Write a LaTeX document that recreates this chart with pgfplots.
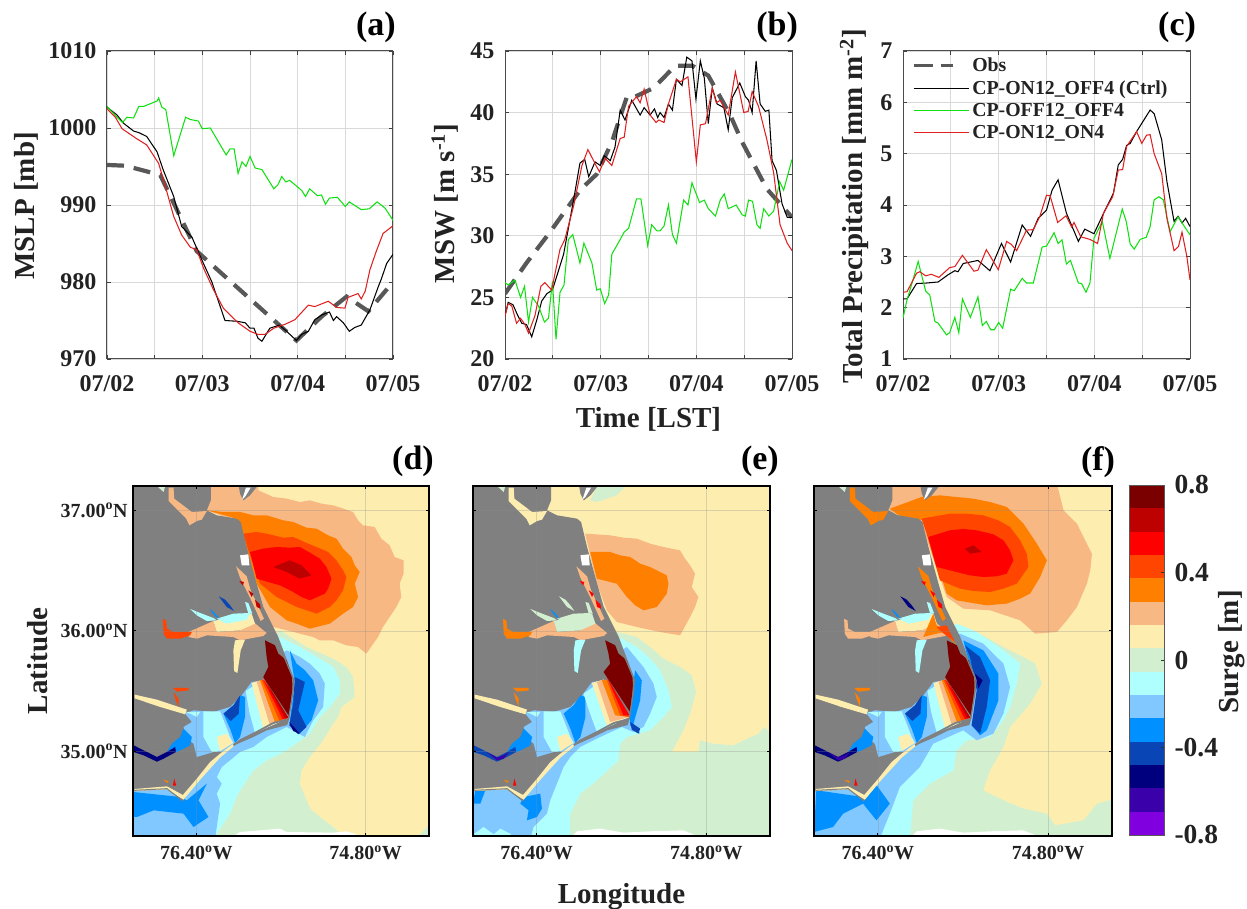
\documentclass[border=0pt]{standalone}
\usepackage{pgfplots}
\usepackage{fontspec}
\pgfplotsset{compat=1.18}
\setmainfont{Liberation Serif}
\definecolor{c1}{HTML}{7A0000}\definecolor{c2}{HTML}{BD0000}\definecolor{c3}{HTML}{FF0000}
\definecolor{c4}{HTML}{FF4500}\definecolor{c5}{HTML}{FF8000}\definecolor{c6}{HTML}{F8B884}
\definecolor{c7}{HTML}{FDEEB0}\definecolor{c8}{HTML}{D2F0D0}\definecolor{c9}{HTML}{B0FFFF}
\definecolor{c10}{HTML}{80C8FF}\definecolor{c11}{HTML}{0090FF}\definecolor{c12}{HTML}{0A45B5}
\definecolor{c13}{HTML}{00007F}\definecolor{c14}{HTML}{3A00AA}\definecolor{c15}{HTML}{8000E0}
\definecolor{land}{HTML}{808080}\definecolor{ink}{HTML}{222222}
\definecolor{gr}{HTML}{10E010}\definecolor{rd}{HTML}{E02020}\definecolor{obs}{HTML}{585858}
\newcommand\fs[1]{\fontsize{#1}{#1}\selectfont\bfseries}
\pgfplotsset{
 lineaxis/.style={scale only axis,width=286pt,height=308pt,xmin=0,xmax=72,
  xtick={0,12,...,72},xticklabels={07/02,,07/03,,07/04,,07/05},
  tick align=inside,major tick length=4pt,grid=major,
  grid style={black!15,line width=.9pt},tick style={black!75,line width=.7pt},
  axis line style={black!70,line width=1pt},
  tick label style={font=\fs{24},text=ink},xticklabel style={yshift=-13pt},
  yticklabel style={xshift=-7pt},
  label style={font=\fs{29},text=ink},
  title style={font=\fs{34},text=black}},
 obsl/.style={color=obs,line width=4.2pt,dash pattern=on 17pt off 10pt},
 ln/.style={line width=1.05pt},
 mapaxis/.style={scale only axis,width=296pt,height=350pt,xmin=-77,xmax=-74.2,ymin=34.3,ymax=37.2,
  axis on top,xtick={-76.4,-74.8},ytick={35,36,37},
  xticklabels={76.40\textsuperscript{o}W,74.80\textsuperscript{o}W},
  tick align=inside,major tick length=3pt,grid=major,
  grid style={black!45,opacity=.3,line width=.6pt},tick style={black,line width=.8pt},
  axis line style={black,line width=1.8pt},
  tick label style={font=\fs{20},text=ink},xticklabel style={yshift=-6pt},yticklabel style={xshift=-2pt},
  label style={font=\fs{29},text=ink},
  title style={font=\fs{34},text=black},
  y filter/.expression={37.2-(y-107)/362.07}},
 dcoords/.style={x filter/.expression={-77+(x-398)/318}},
}
\newcommand\poly[2]{\addplot[draw=none,fill=#1,forget plot] coordinates {#2};}
\newcommand\polyD[2]{\addplot[dcoords,draw=none,fill=#1,forget plot] coordinates {#2};}
\newcommand\landD{%
 \polyD{land}{(390,100)(632,100)(632,150)(620,180)(650,195)(710,205)(722,215)(740,290)(770,400)(790,470)(835,560)(884,690)(868,805)(862,824)(800,840)(760,860)(700,886)(640,930)(590,990)(548,1052)(500,1017)(390,1023)}
 \polyD{land}{(715,100)(778,100)(750,135)(730,150)(720,130)}
 \polyD{white}{(738,112)(752,112)(735,140)(726,148)}
 \polyD{white}{(720,315)(745,312)(748,345)(725,345)}
}
\newcommand\soundD[1]{%
 \polyD{#1}{(725,735)(690,770)(640,785)(580,780)(555,790)(575,815)(550,830)(555,860)(580,880)(590,920)(640,905)(670,905)(705,878)(770,847)(865,800)(790,690)(755,695)}
}
\newcommand\neuseD[4]{%
 \polyD{#2}{(515,880)(540,860)(550,835)(575,860)(570,885)(530,905)(500,905)}
 \polyD{#3}{(400,885)(430,900)(470,920)(500,905)(525,890)(527,905)(490,925)(470,934)(430,915)(400,905)}
 \polyD{#4}{(440,905)(470,922)(490,915)(505,905)(490,925)(470,930)}
 \polyD{#1}{(518,713)(565,713)(565,720)(530,724)}
 \polyD{#1}{(520,725)(535,745)(535,770)(525,745)}
 \polyD{c7}{(403,733)(470,748)(560,778)(555,792)(480,770)(403,744)}
 \polyD{c9}{(555,785)(600,785)(590,800)(570,790)}
}
\newcommand\riversD[9]{%
 \polyD{#2}{(565,545)(640,512)(650,545)(720,540)(760,515)(800,548)(790,557)(720,570)(700,560)(620,555)(590,565)(565,560)}
 \polyD{#1}{(488,506)(498,510)(500,535)(520,545)(575,545)(570,555)(540,565)(500,565)(490,550)}
 \polyD{#3}{(640,512)(700,500)(755,490)(765,520)(720,540)(650,545)}
 \polyD{#4}{(650,505)(700,490)(750,488)(740,508)(680,520)}
 \polyD{#4}{(570,476)(600,488)(640,503)(650,510)(620,512)(590,495)}
 \polyD{#4}{(735,455)(745,458)(757,490)(745,490)}
 \polyD{c11}{(628,476)(640,484)(658,505)(645,498)}
 \polyD{#6}{(656,438)(675,448)(690,465)(702,482)(680,470)}
 \polyD{#5}{(735,568)(722,600)(712,668)(702,662)(700,600)(705,570)}
 \polyD{#7}{(505,112)(520,112)(522,145)(575,185)(620,182)(605,208)(590,212)(568,225)(558,205)(505,152)}
 \polyD{#8}{(708,348)(740,378)(752,420)(772,462)(792,505)(782,512)(750,442)(720,382)}
 \polyD{#9}{(718,392)(732,395)(728,405)}
 \polyD{#9}{(745,420)(760,430)(755,440)}
 \polyD{#9}{(765,448)(780,462)(782,475)(770,470)}
 \polyD{c8}{(470,107)(495,107)(490,125)}
 \polyD{c5}{(488,988)(505,992)(502,998)}
 \polyD{c3}{(522,985)(528,1006)(518,1006)}
 \polyD{c7}{(403,1016)(500,1008)(548,1034)(590,985)(630,935)(660,910)(700,880)(703,886)(660,922)(600,988)(550,1048)(500,1017)(403,1022)}
}
\newcommand\bankD{%
 \addplot[dcoords,color=land,line width=1.8pt,forget plot] coordinates {(866,806)(820,818)(770,845)(720,870)(700,885)};
 \addplot[dcoords,color=land,line width=1.2pt,forget plot] coordinates {(866,806)(880,720)(878,680)(840,590)};
 \addplot[dcoords,color=land,line width=1pt,forget plot] coordinates {(403,1020)(500,1015)(548,1052)};
}
\newcommand\bandsD[1]{%
 \polyD{c9}{(610,783)(660,783)(690,860)(700,878)(650,905)(635,905)(610,860)}
 \polyD{c7}{(650,860)(680,850)(698,878)(660,903)}
 \polyD{c11}{(722,735)(735,740)(735,800)(720,860)(705,878)(690,835)(670,790)(700,765)}
 \polyD{#1}{(720,735)(716,790)(692,812)(670,790)(700,765)}
}
\newcommand\fanD{%
 \polyD{c9}{(737,722)(790,688)(866,803)(765,848)(748,785)}
 \polyD{c7}{(755,698)(790,688)(866,803)(790,836)}
 \polyD{c6}{(770,694)(790,688)(866,803)(810,825)}
 \polyD{c5}{(780,690)(790,688)(866,803)(825,816)}
 \polyD{c4}{(785,688)(792,688)(866,803)(838,810)}
 \polyD{c3}{(790,688)(866,803)(848,806)}
 \polyD{c2}{(790,680)(866,803)(856,804)}
 \polyD{c1}{(795,570)(825,585)(835,610)(860,630)(880,690)(868,798)(790,680)(805,650)(800,620)}
}
\begin{document}
\begin{tikzpicture}
\path[use as bounding box] (0,0) rectangle (1247pt,909pt);
%% (a)
\begin{axis}[lineaxis,at={(107pt,550pt)},anchor=south west,ymin=970,ymax=1010,ytick={970,980,...,1010},
 yticklabels={970,980,990,1000,1010},ylabel={MSLP [mb]},
 ylabel style={at={(axis description cs:-0.283,0.497)},anchor=center},
 title={(a)},title style={at={(axis description cs:0.94,1.056)},anchor=center}]
\addplot[obsl] coordinates {(0,995.2)(4.6,995.1)(13.4,993.9)(22.6,984)(47.7,972.4)(54,975.5)(60.3,978.1)(65.8,976.2)(72,980)};
\addplot[color=black,ln] coordinates {(0,1002.7)(2.5,1001.7)(4.2,1000.6)(6.7,999.6)(8,999.4)(10,998.9)(12.6,996.9)(14.2,994.5)(16.8,991.1)(18.8,987.2)(21.4,985.8)(23.5,983.3)(26.4,980)(29.7,975)(32.7,974.9)(34.8,974.7)(36,974)(37,974)(38,972.7)(39,972.3)(41,974)(43.4,974.4)(45.2,973.6)(47.7,972.4)(49,973.2)(50.7,973.6)(52.3,975.1)(54,975.7)(56,976.1)(57,975)(57.8,975.5)(59.5,974.7)(61,973.6)(62.4,974.1)(64,974.4)(66.2,976.4)(68.3,979.4)(69,980.3)(70.4,982.4)(72,983.6)};
\addplot[color=gr,ln] coordinates {(0,1002.8)(2.5,1001.4)(3.9,1000.7)(5,1001.4)(6.7,1001.3)(8,1002.8)(9.2,1002.8)(12.6,1003.5)(13,1003.9)(13.8,1002.7)(14.8,1002.4)(16.8,996.4)(19.8,1001.4)(21,1001.1)(23,1000.9)(24,999.9)(26,1000)(30,996.5)(31,997.3)(32,997.3)(33,994.1)(34,995.6)(35,995)(36,996.3)(37.3,994.8)(39,994.6)(42,992.1)(43,992.6)(44,993.7)(45,993)(46,993.2)(49,991.9)(50,991.1)(51,992.1)(53,991.2)(54,991.3)(55,990.1)(56,990.9)(58,991)(60,989.8)(61,990.4)(64,989.4)(66,989.5)(68,990.4)(70,989.6)(72,988)};
\addplot[color=rd,ln] coordinates {(0,1002.5)(2.1,1001.4)(3.8,999.9)(7.5,998.6)(10,997.8)(13,995.4)(14.7,992.4)(16.8,988.5)(18.8,986.1)(21,984.5)(22.6,984.2)(24.3,981.8)(26.8,979)(29.3,976.6)(31.4,975.5)(33,974.7)(36,973.6)(38,973.2)(39.8,973.2)(42,974)(44.8,974.5)(47.3,975.1)(50.7,977)(52.3,976.8)(55.7,977.5)(57.8,976.7)(59.9,976.6)(60.7,978)(63.2,978.5)(64,977.8)(65,978.8)(66.2,981.6)(67.8,984)(69.5,986.3)(72,987.3)};
\end{axis}
%% (b)
\begin{axis}[lineaxis,width=287pt,at={(505pt,550pt)},anchor=south west,ymin=20,ymax=45,ytick={20,25,...,45},
 yticklabels={20,25,30,35,40,45},ylabel={MSW [m s\textsuperscript{-1}]},xlabel={Time [LST]},
 xlabel style={at={(axis description cs:0.5,-0.195)},anchor=center},
 ylabel style={at={(axis description cs:-0.21,0.505)},anchor=center},
 title={(b)},title style={at={(axis description cs:0.948,1.056)},anchor=center}]
\addplot[obsl] coordinates {(0,25.3)(5.4,27.8)(11.3,30.3)(18.8,33.7)(23,35)(26.8,37.6)(30.6,41.3)(32.7,41.3)(37.3,42)(42.7,43.8)(47,43.8)(51,43)(56.5,39.8)(59.5,37.6)(65.7,33.8)(72,31.5)};
\addplot[color=black,ln] coordinates {(0,23.5)(0.8,24.6)(2,24.4)(3.1,23.6)(4.2,22.9)(5.4,22.8)(6.7,21.8)(8,23.2)(9.2,24.7)(10.5,25.3)(11.9,25.6)(14.7,28.5)(17.2,32.9)(18.8,35.9)(20,36.2)(21,34.8)(22.6,36)(23.9,35.7)(24.9,36.5)(26.4,36.1)(27.6,37.2)(28.9,40.2)(30.1,39.4)(31.8,41)(33.9,39.8)(34.9,40.4)(36.4,39.8)(37.5,40.3)(38.3,39.6)(38.9,40)(39.9,39.6)(41,40.7)(42,40.2)(43,42.7)(44.4,42.2)(45.6,44.5)(46.9,44.2)(47.9,41.1)(49,44.2)(50,42.8)(51,39.1)(52,42)(53.2,40.7)(54.9,40.4)(56,38.6)(57,41.2)(58.9,42.4)(60.3,41.3)(61.1,41)(62,40)(63,44.2)(64,40.7)(65.3,40.1)(66.2,40.2)(67,36.1)(68.1,35.3)(69.5,32.6)(70.8,31.5)(72,31.5)};
\addplot[color=gr,ln] coordinates {(0,26.2)(0.8,26)(2.5,26.4)(3.9,25)(4.9,25.9)(5.9,23)(6.9,25)(8.4,24.3)(9.9,23)(10.9,23.3)(11.9,26.3)(12.8,21.6)(13.8,25.4)(14.8,26)(15.9,29.7)(17,30.1)(18.8,27.8)(19.8,29.4)(21.8,27.8)(23,25.6)(23.9,25.7)(25,24.5)(26,25.2)(26.8,28.5)(28.9,29.7)(29.9,30.3)(31,30.6)(33,33)(34.1,33)(35.8,29.2)(36.8,30.9)(38.1,30.4)(38.9,30.4)(39.9,30.8)(41,32.5)(42,30.1)(43,29.4)(44.8,32.9)(45.9,32.5)(46.9,34.3)(48.8,32.7)(50,32.9)(51,32.2)(52.8,31.6)(54,32.9)(55,33.4)(56,32.2)(58,32.5)(59.5,31.7)(60.3,31.6)(61.1,32.9)(62.1,32.8)(63.2,30.9)(64,30.6)(64.9,32.2)(66.2,31.6)(67.4,32)(68.9,34.4)(69.9,33.7)(72,36.2)};
\addplot[color=rd,ln] coordinates {(0,23.5)(0.8,24.5)(1.7,24.3)(2.9,22.9)(3.9,23.3)(5,22.8)(5.9,22.1)(7.5,23.5)(9,25.9)(10,26.2)(11.7,25.6)(13.8,28.9)(15,29.7)(17.2,32.4)(19.3,35.7)(20.8,37)(23,35.6)(23.7,35.2)(25.1,36.3)(26.8,35.7)(28.9,37.9)(29.9,38)(31,40.5)(33,41.3)(33.9,40.8)(34.9,41.9)(36.4,39.8)(37.9,39.2)(38.6,39.4)(39.9,39.2)(41,40.7)(43,42.7)(44,42.5)(45.9,42.9)(48,36)(49,39)(50.3,39.1)(52,42)(53,40.8)(54,41)(56,39.8)(57.8,43.3)(59.9,40)(61,40.1)(62,41.7)(63.6,40.5)(65.7,37.8)(67.4,35.1)(69,30.9)(70.8,29.4)(72,28.8)};
\end{axis}
%% (c)
\begin{axis}[lineaxis,width=287pt,at={(903pt,550pt)},anchor=south west,ymin=1,ymax=7,ytick={1,...,7},
 yticklabels={1,2,3,4,5,6,7},ylabel={Total Precipitation [mm m\textsuperscript{-2}]},
 ylabel style={at={(axis description cs:-0.17,0.495)},anchor=center},
 title={(c)},title style={at={(axis description cs:0.955,1.056)},anchor=center},
 legend style={draw=none,fill=none,at={(0.03,0.985)},anchor=north west,inner sep=0pt,
  font=\fs{19.8},row sep=3.4pt,text=ink,/tikz/every even column/.append style={column sep=6pt}},
 legend cell align=left,
 legend image code/.code={\draw[#1] (0pt,0pt) -- (55pt,0pt);}]
\addlegendimage{color=obs,line width=3.5pt,dash pattern=on 19pt off 8pt on 12pt off 20pt}
\addplot[color=black,ln] coordinates {(0,2.17)(1,2.17)(3.4,2.47)(5.9,2.48)(8.8,2.5)(11.3,2.64)(13,2.72)(13.8,2.7)(15.1,2.86)(18.8,2.92)(21.8,2.72)(24.7,3.25)(27,2.89)(29.9,3.61)(32,3.39)(33.9,3.74)(36,3.9)(37.4,4.29)(38.9,4.49)(41,3.84)(44,3.29)(45.6,3.53)(47.9,3.44)(50.7,3.9)(52.8,4.23)(54,4.78)(55.1,4.89)(56.1,5.16)(57,5.2)(58.6,5.43)(62,5.85)(63,5.78)(64.9,5.27)(66.2,4.46)(68,3.68)(69,3.78)(70,3.65)(70.9,3.74)(72,3.58)};
\addplot[color=gr,ln] coordinates {(0,1.8)(1,2.15)(2.5,2.54)(3.8,2.9)(5.7,2.32)(6.7,2.25)(8,1.73)(8.8,1.7)(10.9,1.47)(11.7,1.51)(13,1.81)(14,1.51)(14.9,2.17)(16.9,1.81)(18.8,2.21)(19.9,1.65)(20.9,1.73)(22,1.57)(22.9,1.57)(24,1.71)(25,1.6)(27,2.36)(27.9,2.33)(29.9,2.57)(31,2.48)(32.7,2.48)(34.9,3.18)(36,3.2)(37.9,3.46)(38.9,3.25)(39.9,3.32)(41,2.85)(42,2.92)(44,2.48)(44.8,2.47)(45.9,2.3)(46.9,2.48)(47.9,3.35)(50,3.68)(51.9,2.96)(55,3.92)(56,3.68)(57,3.24)(58,3.14)(59.5,3.33)(61,3.37)(62,3.58)(63,4.1)(64.2,4.16)(65.3,4.1)(67,3.48)(69,3.77)(71.2,3.51)(72,3.42)};
\addplot[color=rd,ln] coordinates {(0,2.3)(1,2.31)(3.4,2.67)(4.2,2.7)(5.7,2.62)(7.1,2.65)(9,2.59)(11.7,2.78)(13,2.8)(14.9,3.02)(17.8,2.71)(18.8,2.73)(20.9,3.13)(23.9,2.74)(26,3.29)(27.2,3.23)(28.5,3.11)(31,3.51)(32.7,3.52)(34.3,3.77)(36,4.19)(36.9,4.18)(38.8,3.66)(40.9,3.79)(42.3,3.57)(42.9,3.66)(44.6,3.38)(46.9,3.33)(48.8,3.25)(50.3,3.84)(52.6,4.16)(54,4.68)(55.1,4.69)(56.1,5.14)(58.6,5.43)(59.9,5.2)(61.1,5.36)(62,5.37)(63,5)(64.9,4.61)(66.2,3.74)(68,3.11)(69.1,3.19)(70,3.47)(71.2,3)(72,2.54)};
\legend{Obs,CP-ON12\_OFF4 (Ctrl),CP-OFF12\_OFF4,CP-ON12\_ON4}
\end{axis}
%% (d)
\begin{axis}[mapaxis,at={(133pt,73pt)},anchor=south west,
 x filter/.expression={-77+(x-398)/318},
 yticklabels={35.00\textsuperscript{o}N,36.00\textsuperscript{o}N,37.00\textsuperscript{o}N},
 ylabel={Latitude},ylabel style={at={(axis description cs:-0.321,0.5)},anchor=center},
 title={(d)},title style={at={(axis description cs:0.946,1.052)},anchor=center}]
\poly{c7}{(390,100)(1295,100)(1295,1165)(390,1165)}
\poly{c8}{(840,540)(920,590)(1000,625)(1040,650)(1060,680)(1065,740)(1025,770)(1015,800)(1000,820)(970,870)(930,920)(905,960)(900,1000)(920,1050)(935,1080)(1000,1130)(1040,1165)(390,1165)(390,900)}
\poly{c8}{(1288,1125)(1295,1165)(1250,1165)}
\poly{c9}{(830,555)(900,590)(960,625)(1000,650)(1020,690)(1020,730)(990,770)(960,800)(930,850)(860,900)(800,930)(760,960)(740,990)(720,1020)(705,1050)(690,1090)(640,1165)(390,1165)(390,900)}
\poly{c10}{(860,600)(900,620)(930,640)(960,670)(975,700)(970,770)(940,810)(915,860)(860,830)(800,860)(760,890)(720,905)(690,930)(665,950)(650,980)(665,1000)(650,1030)(660,1060)(645,1165)(390,1165)(390,900)}
\poly{c11}{(398,1025)(540,1040)(560,1050)(620,1000)(595,1050)(625,1100)(580,1130)(550,1090)(460,1080)(410,1100)(398,1100)}
\poly{c11}{(870,600)(890,640)(915,660)(940,690)(955,750)(935,810)(900,850)(880,840)(870,810)(885,700)}
\poly{c12}{(885,680)(915,695)(895,780)(920,830)(895,852)(868,825)(880,760)}
\poly{c13}{(868,815)(900,850)(880,842)}
\poly{c6}{(610,107)(775,107)(775,120)(820,140)(860,145)(900,155)(930,150)(965,160)(1000,165)(1040,178)(1060,185)(1075,210)(1090,225)(1125,230)(1145,265)(1170,285)(1185,320)(1212,330)(1212,370)(1200,400)(1205,440)(1190,470)(1170,500)(1150,530)(1135,560)(1100,610)(1075,590)(1040,585)(1000,570)(960,570)(940,560)(880,545)(820,530)(780,470)(700,210)(620,180)}
\poly{c5}{(620,180)(670,185)(720,185)(760,195)(800,195)(850,210)(880,215)(920,232)(950,235)(985,255)(1010,265)(1030,295)(1055,320)(1065,345)(1080,365)(1065,400)(1075,440)(1060,470)(1030,490)(990,520)(930,535)(890,520)(860,510)(810,470)(770,400)(730,260)(710,205)}
\poly{c4}{(730,250)(770,245)(800,250)(850,262)(880,260)(925,280)(950,290)(985,305)(1010,330)(1030,360)(1040,380)(1030,420)(1010,450)(990,470)(950,490)(920,480)(890,470)(860,455)(830,440)(780,400)(745,300)}
\poly{c3}{(750,305)(790,295)(830,290)(870,292)(900,290)(935,310)(960,325)(980,350)(995,385)(985,415)(975,430)(930,450)(905,440)(880,425)(840,405)(770,385)}
\poly{c2}{(820,350)(870,330)(905,345)(935,375)(900,385)(860,365)}
\poly{white}{(690,1165)(720,1145)(780,1140)(840,1135)(860,1145)(1000,1147)(1040,1143)(1070,1152)(1070,1165)}
\landD
\soundD{c10}\bandsD{c12}\fanD
\neuseD{c4}{c11}{c13}{c13}
\riversD{c4}{c6}{c7}{c9}{c7}{c12}{c6}{c6}{c2}
\bankD
\end{axis}
%% (e)
\begin{axis}[mapaxis,width=297pt,at={(473pt,73pt)},anchor=south west,
 x filter/.expression={-77+(x-68)/318.6},
 yticklabels={,,},xlabel={Longitude},
 xlabel style={at={(axis description cs:0.5,-0.174)},anchor=center},
 title={(e)},title style={at={(axis description cs:0.966,1.052)},anchor=center}]
\poly{c7}{(60,100)(970,100)(970,1165)(60,1165)}
\poly{c8}{(420,150)(445,100)(535,100)(500,135)(440,155)}
\poly{c8}{(500,545)(560,560)(600,590)(640,625)(690,650)(725,675)(738,725)(720,790)(700,840)(665,905)(745,905)(750,870)(790,880)(850,885)(925,850)(945,830)(970,860)(970,1165)(60,1165)(60,900)}
\poly{c6}{(405,250)(480,255)(520,262)(560,265)(600,280)(640,290)(690,300)(705,325)(720,345)(735,370)(725,410)(745,440)(735,470)(720,500)(690,555)(630,545)(560,530)(500,515)(470,480)(440,400)}
\poly{c5}{(420,305)(480,305)(510,315)(540,320)(570,340)(600,350)(650,375)(655,400)(650,430)(620,470)(580,480)(555,465)(530,440)(500,400)(440,385)}
\poly{c9}{(505,560)(560,590)(600,625)(630,660)(655,720)(665,770)(640,800)(600,840)(530,860)(510,880)(505,930)(440,990)(390,1030)(360,1090)(360,1165)(60,1165)(60,900)}
\poly{c10}{(530,590)(580,650)(610,700)(620,740)(600,790)(580,830)(550,845)(515,830)(450,860)(390,890)(360,920)(340,950)(300,1050)(290,1090)(250,1130)(240,1165)(60,1165)(60,900)}
\poly{c9}{(72,1150)(100,1130)(130,1152)(150,1135)(180,1150)(190,1165)(72,1165)}
\poly{c11}{(555,660)(575,690)(570,750)(550,820)(570,850)(540,825)(540,760)}
\poly{c12}{(540,815)(570,835)(565,850)(545,838)}
\poly{c11}{(220,1040)(270,1030)(275,1075)(260,1100)(230,1110)(235,1080)(210,1060)}
\poly{c11}{(75,1020)(105,1020)(90,1060)(68,1060)}
\poly{white}{(360,1165)(380,1143)(450,1135)(520,1147)(600,1143)(700,1140)(760,1165)}
\landD
\soundD{c10}\bandsD{c11}
\poly{c9}{(400,730)(460,688)(538,800)(440,845)(418,785)}
\poly{c7}{(425,698)(460,688)(538,800)(470,825)}
\poly{c6}{(440,695)(460,688)(538,800)(480,815)}
\poly{c5}{(455,690)(470,688)(538,800)(495,795)}
\poly{c4}{(468,685)(538,800)(510,795)}
\poly{c3}{(470,680)(538,795)(520,795)}
\poly{c1}{(465,570)(495,585)(505,610)(530,630)(550,690)(540,785)(460,665)(480,640)(475,610)}
\neuseD{c5}{c11}{c12}{c14}
\riversD{c5}{c6}{c8}{c8}{c9}{c8}{c7}{c6}{c3}
\bankD
\end{axis}
%% (f)
\begin{axis}[mapaxis,width=298pt,at={(814pt,73pt)},anchor=south west,
 x filter/.expression={-77+(x-73)/318.6},
 yticklabels={,,},
 title={(f)},title style={at={(axis description cs:0.953,1.052)},anchor=center}]
\poly{c7}{(60,100)(975,100)(975,1165)(60,1165)}
\poly{c8}{(500,520)(560,545)(640,590)(690,615)(735,640)(755,700)(720,760)(660,830)(640,890)(600,960)(580,1020)(640,1050)(700,1075)(770,1090)(795,1125)(880,1110)(920,1060)(975,1045)(975,1165)(60,1165)(60,900)}
\poly{c6}{(280,100)(800,100)(820,180)(860,220)(890,280)(905,310)(900,360)(890,400)(860,470)(830,510)(800,545)(735,550)(690,510)(600,480)(520,475)(470,440)(390,210)(300,185)}
\poly{c5}{(300,175)(395,140)(450,135)(550,145)(600,155)(650,170)(700,220)(720,250)(740,280)(770,330)(750,380)(720,430)(690,445)(650,460)(590,465)(500,450)(470,430)(400,210)(340,205)}
\poly{c4}{(395,205)(480,190)(530,190)(580,195)(625,210)(660,230)(690,270)(710,310)(715,350)(680,400)(640,415)(600,425)(550,422)(510,415)(450,390)(410,250)}
\poly{c3}{(415,260)(480,240)(520,236)(560,240)(610,252)(640,270)(660,300)(670,330)(650,370)(620,378)(580,380)(540,375)(500,365)(440,350)}
\poly{c2}{(525,295)(550,285)(575,305)(540,310)}
\poly{c9}{(500,520)(560,545)(640,600)(690,640)(680,700)(660,770)(640,810)(600,860)(530,870)(500,900)(490,960)(420,1000)(370,1050)(360,1165)(60,1165)(60,900)}
\poly{c10}{(510,550)(580,580)(640,640)(660,710)(640,790)(610,850)(560,870)(520,840)(430,880)(390,950)(330,1010)(300,1090)(270,1165)(60,1165)(60,900)}
\poly{c11}{(520,570)(580,600)(625,670)(625,750)(590,840)(570,855)(545,825)(565,720)(530,610)}
\poly{c12}{(525,585)(570,620)(600,690)(590,770)(570,850)(545,825)(560,720)(540,620)}
\poly{c13}{(555,670)(578,690)(565,715)}
\poly{c11}{(80,1020)(220,1040)(250,990)(300,1060)(260,1110)(220,1060)(160,1090)(130,1130)(73,1145)}
\poly{white}{(360,1165)(380,1143)(450,1135)(520,1147)(600,1143)(700,1140)(760,1165)}
\landD
\soundD{c10}\bandsD{c12}\fanD
\neuseD{c5}{c11}{c13}{c14}
\riversD{c6}{c6}{c7}{c9}{c9}{c13}{c5}{c5}{c3}
\poly{c5}{(400,560)(430,490)(440,525)(470,545)(500,585)(460,545)}
\poly{c4}{(440,530)(470,525)(495,575)(455,545)}
\bankD
\end{axis}
%% colour bar
\begin{axis}[scale only axis,width=35pt,height=350pt,at={(1129pt,74pt)},anchor=south west,
 xmin=0,xmax=1,ymin=-0.8,ymax=0.8,xtick=\empty,ytick={-0.8,-0.4,0,0.4,0.8},
 yticklabels={-0.8,-0.4,0,0.4,0.8},ytick pos=right,yticklabel pos=right,tick align=inside,
 axis on top,major tick length=3pt,tick style={black!80,line width=.7pt},axis line style={black!65,line width=.9pt},
 tick label style={font=\fs{27.5},text=ink},yticklabel style={xshift=7pt},
 ylabel={Surge [m]},label style={font=\fs{29},text=ink},
 ylabel style={at={(axis description cs:2.94,0.523)},anchor=center}]
\addplot[draw=none,fill=c15] coordinates {(0,-0.8)(1,-0.8)(1,-0.69333)(0,-0.69333)};
\addplot[draw=none,fill=c14] coordinates {(0,-0.69333)(1,-0.69333)(1,-0.58667)(0,-0.58667)};
\addplot[draw=none,fill=c13] coordinates {(0,-0.58667)(1,-0.58667)(1,-0.48)(0,-0.48)};
\addplot[draw=none,fill=c12] coordinates {(0,-0.48)(1,-0.48)(1,-0.37333)(0,-0.37333)};
\addplot[draw=none,fill=c11] coordinates {(0,-0.37333)(1,-0.37333)(1,-0.26667)(0,-0.26667)};
\addplot[draw=none,fill=c10] coordinates {(0,-0.26667)(1,-0.26667)(1,-0.16)(0,-0.16)};
\addplot[draw=none,fill=c9] coordinates {(0,-0.16)(1,-0.16)(1,-0.05333)(0,-0.05333)};
\addplot[draw=none,fill=c8] coordinates {(0,-0.05333)(1,-0.05333)(1,0.05333)(0,0.05333)};
\addplot[draw=none,fill=c7] coordinates {(0,0.05333)(1,0.05333)(1,0.16)(0,0.16)};
\addplot[draw=none,fill=c6] coordinates {(0,0.16)(1,0.16)(1,0.26667)(0,0.26667)};
\addplot[draw=none,fill=c5] coordinates {(0,0.26667)(1,0.26667)(1,0.37333)(0,0.37333)};
\addplot[draw=none,fill=c4] coordinates {(0,0.37333)(1,0.37333)(1,0.48)(0,0.48)};
\addplot[draw=none,fill=c3] coordinates {(0,0.48)(1,0.48)(1,0.58667)(0,0.58667)};
\addplot[draw=none,fill=c2] coordinates {(0,0.58667)(1,0.58667)(1,0.69333)(0,0.69333)};
\addplot[draw=none,fill=c1] coordinates {(0,0.69333)(1,0.69333)(1,0.8)(0,0.8)};
\end{axis}
\end{tikzpicture}
\end{document}
